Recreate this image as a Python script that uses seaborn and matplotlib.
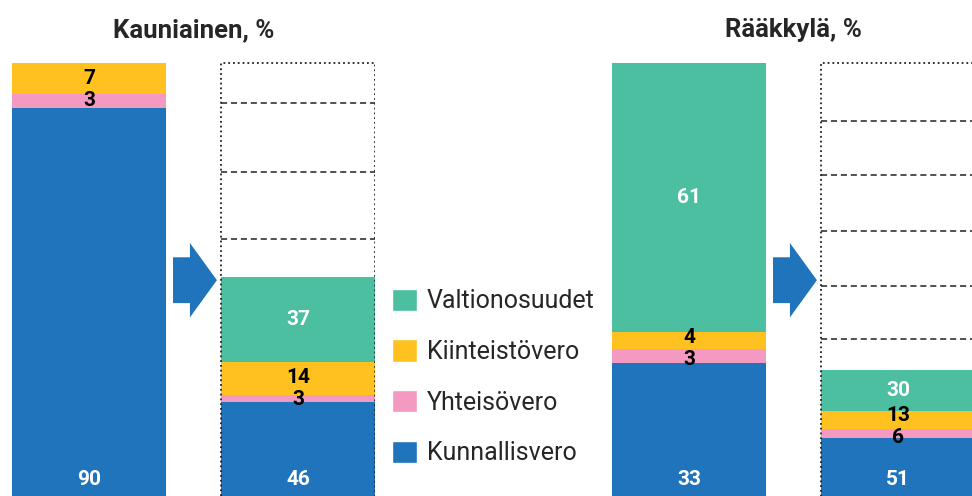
import pandas as pd
import matplotlib.pyplot as plt
import seaborn as sns
from matplotlib.patches import Patch, Rectangle, FancyArrow

# Osuudet (%) pylväittäin, alhaalta ylös
komponentit = ['Kunnallisvero', 'Yhteisövero', 'Kiinteistövero', 'Valtionosuudet']
varit = ['#1F74BB', '#F49AC2', '#FEC11F', '#4BBF9F']
tekstivarit = ['white', 'black', 'black', 'white']

kauniainen_nyt = [90, 3, 7, 0]
kauniainen_uusi = [46, 3, 14, 37]
raakkyla_nyt = [33, 3, 4, 61]
raakkyla_uusi = [51, 6, 13, 30]

# pylväiden kokonaiskorkeus suhteessa nykytilaan
kauniainen_korkeus = [100, 52]
raakkyla_korkeus = [100, 31]

# katkoviivat tyhjän pylvään sisällä
kauniainen_viivat = [60.5, 75.5, 91]
raakkyla_viivat = [38, 50, 62.2, 74.8, 87]

pylvaat = ['nyt', 'uusi']
LEVEYS = 0.737
MIN_VALI = 4.95  # pienin väli yhteisö- ja kiinteistöveron tekstien välillä

sns.set_style('white')
plt.rcParams['font.family'] = ['Roboto', 'DejaVu Sans']


def tee_df(nyt, uusi, korkeus):
    rivit = []
    for pylvas, osuudet, kork in zip(pylvaat, [nyt, uusi], korkeus):
        summa = sum(osuudet)
        kumul = 0
        for komp, osuus in zip(komponentit, osuudet):
            h = osuus / summa * kork
            rivit.append({'pylvas': pylvas, 'komponentti': komp, 'osuus': osuus,
                          'ala': kumul, 'yla': kumul + h})
            kumul += h
    return pd.DataFrame(rivit)


def piirra(ax, df, otsikko, viivat):
    # kumulatiiviset pylväät päällekkäin, ylin ensin
    for komp, vari in reversed(list(zip(komponentit, varit))):
        osa = df[df['komponentti'] == komp]
        sns.barplot(data=osa, x='pylvas', y='yla', order=pylvaat, color=vari,
                    width=LEVEYS, saturation=1, errorbar=None, linewidth=0, ax=ax)

    # arvot
    for i, pylvas in enumerate(pylvaat):
        osa = df[df['pylvas'] == pylvas].reset_index(drop=True)
        kesket = ((osa['ala'] + osa['yla']) / 2).tolist()
        kesket[0] = 6.5
        # pienet osat: työnnetään tekstit erilleen
        vali = kesket[2] - kesket[1]
        if vali < MIN_VALI:
            siirto = (MIN_VALI - vali) / 2
            kesket[1] -= siirto
            kesket[2] += siirto
        for k, r in osa.iterrows():
            if r['osuus'] == 0:
                continue
            ax.text(i, kesket[k], str(r['osuus']), ha='center', va='center',
                    color=tekstivarit[k], fontsize=15, fontweight='bold', zorder=8)

    # tyhjän pylvään reunat ja katkoviivat
    ax.add_patch(Rectangle((1 - LEVEYS / 2, 0), LEVEYS, 100, fill=False,
                           ls=':', lw=1.3, ec='#222222', zorder=6))
    ax.hlines(viivat, 1 - LEVEYS / 2, 1 + LEVEYS / 2, colors='#222222',
              linestyles=(0, (4, 2.5)), lw=1.1, zorder=5)

    # nuoli
    ax.add_patch(FancyArrow(0.402, 51.2, 0.21, 0, width=10.3, head_width=16.7,
                            head_length=0.129, length_includes_head=True,
                            color=varit[0], lw=0, zorder=4))

    ax.set_xlim(-LEVEYS / 2, 1 + LEVEYS / 2)
    ax.set_ylim(2.7, 101)
    ax.set_axis_off()
    ax.set_title(otsikko, fontsize=18.5, fontweight='bold', pad=15.7)


fig = plt.figure(figsize=(9.72, 4.96), dpi=100)
ax1 = fig.add_axes([12 / 972, 0, 363 / 972, 437.4 / 496])
ax2 = fig.add_axes([612 / 972, 0, 363 / 972, 437.4 / 496])

piirra(ax1, tee_df(kauniainen_nyt, kauniainen_uusi, kauniainen_korkeus),
       'Kauniainen, %', kauniainen_viivat)
piirra(ax2, tee_df(raakkyla_nyt, raakkyla_uusi, raakkyla_korkeus),
       'Rääkkylä, %', raakkyla_viivat)

kahvat = [Patch(facecolor=c, label=k) for k, c in zip(komponentit, varit)][::-1]
fig.legend(handles=kahvat, loc='center left', bbox_to_anchor=(392 / 972, 1 - 377 / 496),
           frameon=False, fontsize=18, handlelength=1.0, handleheight=1.0,
           handletextpad=0.4, labelspacing=1.04, borderpad=0, borderaxespad=0)

fig.savefig('out.png', dpi=100)
